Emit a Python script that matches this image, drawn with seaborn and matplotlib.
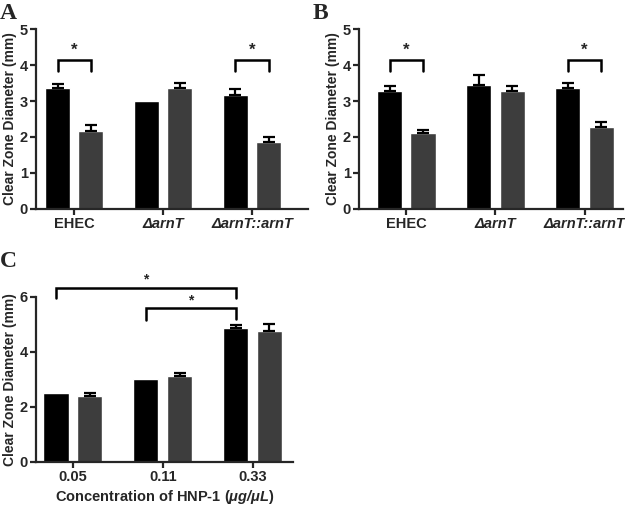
import pandas as pd
import seaborn as sns
import matplotlib.pyplot as plt

# panel A / B groups
groups_ab = ["EHEC", "ΔarnT", "ΔarnT::arnT"]
a_black = [3.35, 3.0, 3.18]
a_black_err = [0.13, 0.0, 0.14]
a_gray = [2.18, 3.35, 1.85]
a_gray_err = [0.15, 0.15, 0.15]

b_black = [3.28, 3.45, 3.35]
b_black_err = [0.13, 0.28, 0.15]
b_gray = [2.12, 3.28, 2.28]
b_gray_err = [0.08, 0.13, 0.13]

# panel C
groups_c = ["0.05", "0.11", "0.33"]
c_black = [2.5, 3.0, 4.88]
c_black_err = [0.0, 0.0, 0.10]
c_gray = [2.4, 3.12, 4.75]
c_gray_err = [0.10, 0.12, 0.25]

sns.set_style("ticks")
plt.rcParams['font.family'] = ['Liberation Sans', 'DejaVu Sans']
plt.rcParams['font.weight'] = 'bold'
plt.rcParams['mathtext.fontset'] = 'custom'
plt.rcParams['mathtext.bfit'] = 'Liberation Sans:bold:italic'
plt.rcParams['mathtext.bf'] = 'Liberation Sans:bold'
plt.rcParams['mathtext.rm'] = 'Liberation Sans:bold'

fig = plt.figure(figsize=(6.25, 5.08), dpi=100)
axA = fig.add_axes([0.0576, 0.5886, 0.4352, 0.3543])
axB = fig.add_axes([0.5744, 0.5886, 0.4224, 0.3543])
axC = fig.add_axes([0.0576, 0.0906, 0.4112, 0.3248])


def draw(ax, groups, black, black_err, gray, gray_err):
    df = pd.DataFrame({
        "group": groups * 2,
        "cond": ["ctrl"] * 3 + ["treat"] * 3,
        "value": black + gray,
        "err": black_err + gray_err,
    })
    sns.barplot(data=df, x="group", y="value", hue="cond",
                palette=["#000000", "#3d3d3d"], saturation=1,
                width=0.75, gap=0.25, errorbar=None, legend=False, ax=ax)
    bars = list(ax.patches)
    for p, e in zip(bars, df["err"]):
        if e > 0:
            ax.errorbar(p.get_x() + p.get_width() / 2, p.get_height(),
                        yerr=[[0], [e]], color="black", capsize=4,
                        elinewidth=1.6, capthick=1.6, fmt="none")
    for sp in ["top", "right"]:
        ax.spines[sp].set_visible(False)
    for sp in ["left", "bottom"]:
        ax.spines[sp].set_linewidth(1.6)
    ax.tick_params(width=1.6, length=4, labelsize=10.5, pad=2)
    ax.set_xlabel("")
    ax.set_ylabel("Clear Zone Diameter (mm)", fontsize=10, fontweight="bold",
                  labelpad=2)
    return bars


def bracket(ax, x1, x2, y, y1, y2, star_y, fs=11):
    ax.plot([x1, x1, x2, x2], [y1, y, y, y2], color="black", lw=1.8,
            clip_on=False, solid_joinstyle="miter")
    ax.text((x1 + x2) / 2, star_y, "*", ha="center", va="center",
            fontsize=fs, fontweight="bold")


def center(p):
    return p.get_x() + p.get_width() / 2


def style_xlabels(ax):
    for lab in ax.get_xticklabels():
        lab.set_fontweight("bold")
        if lab.get_text().startswith("Δ"):
            lab.set_fontstyle("italic")
    for lab in ax.get_yticklabels():
        lab.set_fontweight("bold")


# A
bars = draw(axA, groups_ab, a_black, a_black_err, a_gray, a_gray_err)
axA.set_ylim(0, 5)
axA.set_xlim(-0.43, 2.63)
axA.set_yticks([0, 1, 2, 3, 4, 5])
style_xlabels(axA)
for i in [0, 2]:
    bracket(axA, center(bars[i]), center(bars[i + 3]), 4.14, 3.83, 3.83, 4.42, 12)

# B
bars = draw(axB, groups_ab, b_black, b_black_err, b_gray, b_gray_err)
axB.set_ylim(0, 5)
axB.set_xlim(-0.53, 2.43)
axB.set_yticks([0, 1, 2, 3, 4, 5])
style_xlabels(axB)
for i in [0, 2]:
    bracket(axB, center(bars[i]), center(bars[i + 3]), 4.14, 3.83, 3.83, 4.42, 12)

# C
bars = draw(axC, groups_c, c_black, c_black_err, c_gray, c_gray_err)
axC.set_ylim(0, 6)
axC.set_xlim(-0.41, 2.45)
axC.set_yticks([0, 2, 4, 6])
style_xlabels(axC)
axC.set_xlabel(r"Concentration of HNP-1 ($\mathbfit{\mu g/\mu L}$)",
               fontsize=10.5, fontweight="bold", labelpad=3)
bracket(axC, center(bars[0]), center(bars[2]), 6.33, 5.95, 5.98, 6.62, 10)
bracket(axC, center(bars[1]), center(bars[2]), 5.6, 5.15, 5.2, 5.88, 10)

for lbl, x, y in [("A", 0.0, 0.995), ("B", 0.5, 0.995), ("C", 0.0, 0.505)]:
    fig.text(x, y, lbl, family=["Liberation Serif"], fontsize=17,
             fontweight="bold", va="top", ha="left")

fig.savefig("out.png", dpi=100)
